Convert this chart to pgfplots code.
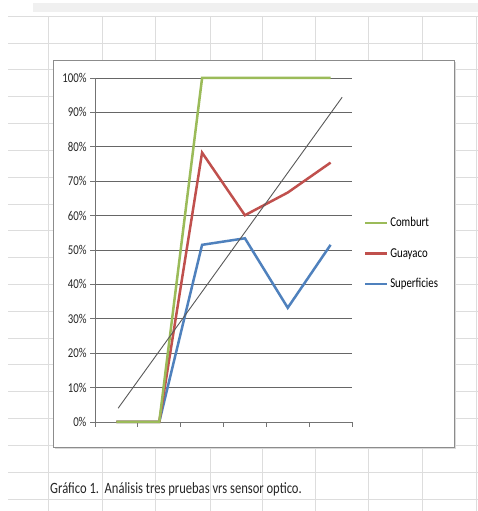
\documentclass[border=0pt]{standalone}
\usepackage{pgfplots}
\pgfplotsset{compat=1.18}
\usepackage{fontspec}
\setmainfont{Carlito}[FakeStretch=0.8]
\definecolor{cgreen}{HTML}{9BBB59}
\definecolor{cred}{HTML}{C0504D}
\definecolor{cblue}{HTML}{4F81BD}
\definecolor{sgrid}{HTML}{DDDDDD}
\begin{document}
\begin{tikzpicture}[x=1pt,y=1pt]
\useasboundingbox (0,0) rectangle (478,511);
\fill[white] (0,0) rectangle (478,511);
% top band
\fill[black!6] (33,499) rectangle (478,508);
% spreadsheet grid
\foreach \k in {0,...,17} {
  \pgfmathsetmacro{\yy}{511-43-26.82*\k}
  \draw[sgrid,line width=0.8] (8,\yy) -- (478,\yy);
}
\draw[sgrid,line width=0.8] (8,495) -- (478,495);
\foreach \xx in {48,102,155,210,262,315,368,422,476} {
  \draw[sgrid,line width=0.8] (\xx,0) -- (\xx,495);
}
% chart box
\fill[black!15] (55,62) rectangle (456,449);
\filldraw[fill=white,draw=black!45,line width=0.9] (53,64) rectangle (454,451);
\node[anchor=west,font=\fontsize{15.7}{17}\selectfont,text=black!85,inner sep=0] at (50,22) {Gráfico 1.\ \ Análisis tres pruebas vrs sensor optico.};
\begin{axis}[
  at={(95pt,89pt)}, anchor=origin,
  scale only axis, width=257pt, height=344pt,
  xmin=0.5, xmax=6.5, ymin=0, ymax=100,
  axis x line=bottom, axis y line=left,
  axis line style={-, draw=black!55, line width=0.9},
  xtick={0.5,1.5,...,6.5}, xticklabels={},
  ytick={0,10,...,100},
  yticklabels={0\%,10\%,20\%,30\%,40\%,50\%,60\%,70\%,80\%,90\%,100\%},
  tick align=outside, major tick length=5pt,
  tick style={draw=black!55, line width=0.9},
  ymajorgrids, grid style={draw=black!60, line width=0.9},
  yticklabel style={font=\fontsize{13.5}{14}\selectfont, text=black!85},
  clip=false,
  reverse legend,
  legend style={at={(axis description cs:1.045,0.49)}, anchor=west, draw=none, fill=none,
    font=\fontsize{13.5}{15}\selectfont, row sep=16pt, inner sep=0pt},
  legend cell align=left,
  legend image code/.code={\draw[#1, line width=2.5pt] (0pt,0pt) -- (22pt,0pt);},
]
\addplot[cblue, line width=2.5pt] coordinates {(1,0) (2,0) (3,51.5) (4,53.4) (5,33.2) (6,51.5)};
\addlegendentry{Superficies}
\addplot[cred, line width=2.5pt] coordinates {(1,0) (2,0) (3,78.3) (4,60.1) (5,66.7) (6,75.4)};
\addlegendentry{Guayaco}
\addplot[cgreen, line width=2.5pt] coordinates {(1,0) (2,0) (3,100) (4,100) (5,100) (6,100)};
\addlegendentry{Comburt}
\addplot[black!65, line width=0.9pt, forget plot] coordinates {(1.04,4) (6.27,94.4)};
\end{axis}
\end{tikzpicture}
\end{document}
